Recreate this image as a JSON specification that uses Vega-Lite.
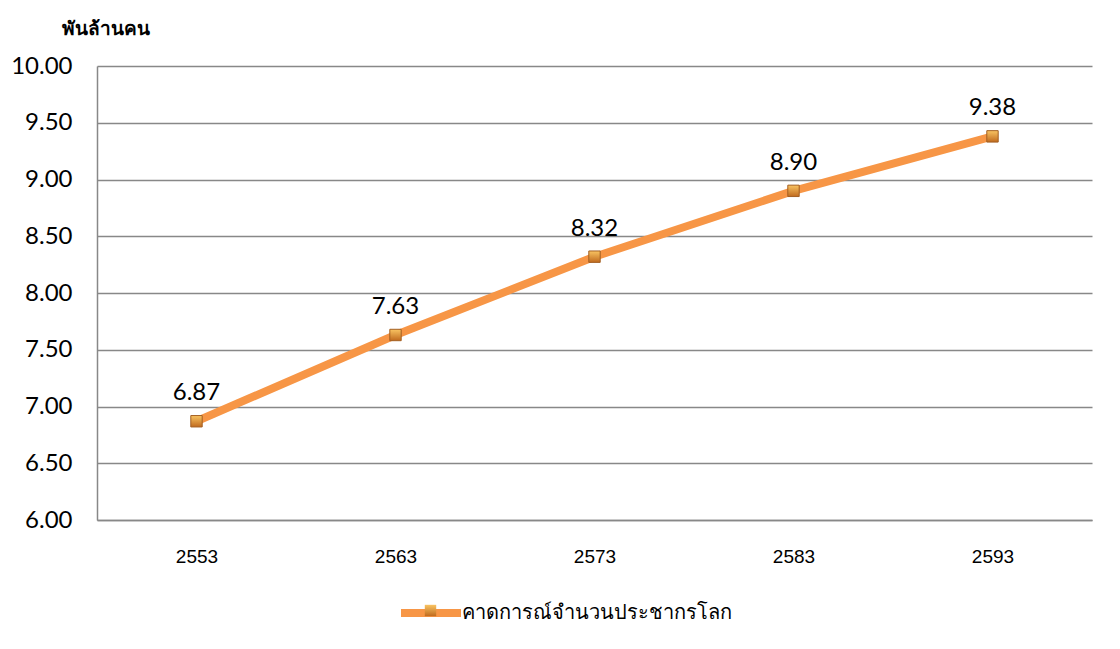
{
  "$schema": "https://vega.github.io/schema/vega-lite/v6.json",
  "width": 995,
  "height": 454,
  "autosize": {"type": "none"},
  "padding": {"left": 97, "top": 66, "right": 28, "bottom": 129},
  "background": "white",
  "config": {"view": {"stroke": null}},
  "data": {
    "values": [
      {"year": "2553", "pop": 6.87},
      {"year": "2563", "pop": 7.63},
      {"year": "2573", "pop": 8.32},
      {"year": "2583", "pop": 8.90},
      {"year": "2593", "pop": 9.38}
    ]
  },
  "encoding": {
    "x": {
      "field": "year",
      "type": "ordinal",
      "scale": {"type": "point", "padding": 0.5},
      "axis": {
        "title": null,
        "labelAngle": 0,
        "ticks": false,
        "labelPadding": 27,
        "labelFontSize": 19,
        "labelFont": "Liberation Sans",
        "labelColor": "black",
        "domainColor": "#888888",
        "domainWidth": 1.5,
        "grid": false
      }
    },
    "y": {
      "field": "pop",
      "type": "quantitative",
      "scale": {"domain": [6, 10], "zero": false, "nice": false},
      "axis": {
        "values": [6, 6.5, 7, 7.5, 8, 8.5, 9, 9.5, 10],
        "format": ".2f",
        "title": "พันล้านคน",
        "titleAngle": 0,
        "titleX": 8,
        "titleY": -38,
        "titleAlign": "center",
        "titleBaseline": "middle",
        "titleFontSize": 19,
        "titleFontWeight": "bold",
        "titleColor": "black",
        "ticks": false,
        "labelPadding": 25,
        "labelFontSize": 24,
        "labelFont": "Lato",
        "labelColor": "black",
        "gridColor": "#888888",
        "gridWidth": 1.5,
        "domainColor": "#888888",
        "domainWidth": 1.5
      }
    }
  },
  "layer": [
    {
      "mark": {"type": "line", "strokeWidth": 8, "strokeCap": "round", "strokeJoin": "round"},
      "encoding": {
        "color": {
          "datum": "คาดการณ์จำนวนประชากรโลก",
          "scale": {"range": ["#F79646"]},
          "legend": {
            "title": null,
            "orient": "none",
            "legendX": 300,
            "legendY": 513,
            "padding": 0,
            "symbolType": "stroke",
            "symbolStrokeWidth": 8,
            "symbolSize": 3600,
            "labelFontSize": 20,
            "labelColor": "black",
            "labelOffset": -3,
            "labelLimit": 400
          }
        }
      }
    },
    {
      "mark": {
        "type": "point",
        "shape": "square",
        "filled": true,
        "size": 130,
        "opacity": 1,
        "fill": {"gradient": "linear", "x1": 0, "y1": 0, "x2": 0, "y2": 1, "stops": [{"offset": 0, "color": "#F9C462"}, {"offset": 1, "color": "#C06A1E"}]},
        "stroke": "#A35F22",
        "strokeWidth": 1
      },
      "encoding": {
        "shape": {
          "datum": "m",
          "scale": {"range": ["square"]},
          "legend": {
            "title": null,
            "orient": "none",
            "legendX": 327,
            "legendY": 538,
            "padding": 0,
            "symbolSize": 130,
            "symbolFillColor": "#D9822C",
            "symbolStrokeColor": "#A35F22",
            "symbolStrokeWidth": 1,
            "labelExpr": "''"
          }
        }
      }
    },
    {
      "mark": {"type": "text", "dy": -28, "fontSize": 24, "font": "Lato", "color": "black"},
      "encoding": {"text": {"field": "pop", "type": "quantitative", "format": ".2f"}}
    }
  ]
}
